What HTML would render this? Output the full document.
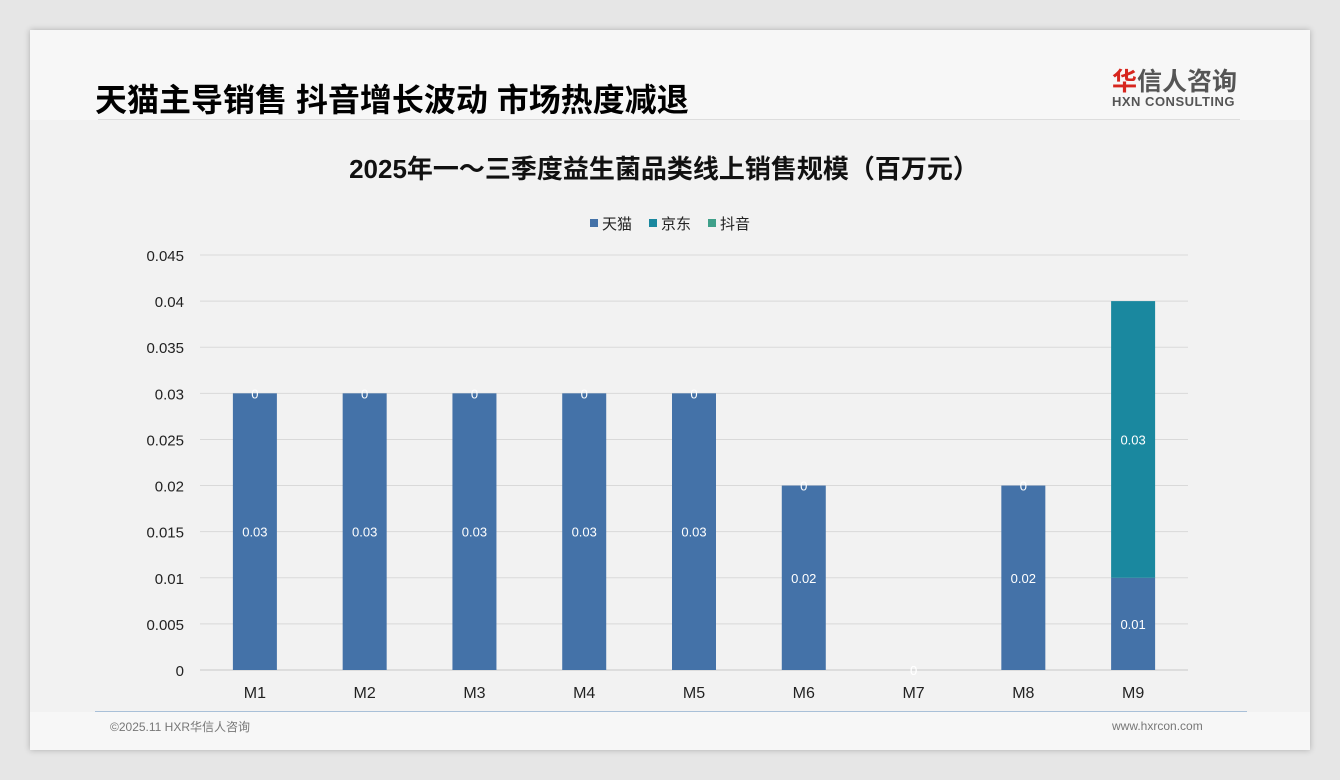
<!DOCTYPE html>
<html><head><meta charset="utf-8"><style>
body{margin:0;width:1340px;height:780px;background:#e6e6e6;position:relative;overflow:hidden;font-family:"Liberation Sans","Noto Sans CJK SC",sans-serif}
#card{position:absolute;left:30px;top:30px;width:1280px;height:720px;background:#f7f7f7;box-shadow:0 0 6px rgba(0,0,0,.25)}
#inner{position:absolute;left:30px;top:120px;width:1280px;height:592px;background:#f2f2f2}
.t{position:absolute;white-space:nowrap}
</style></head><body>
<div id="card"></div>
<div id="inner"></div>
<div class="t" style="left:95px;top:75px;font-size:32px;font-weight:bold;color:#000">天猫主导销售 抖音增长波动 市场热度减退</div>
<div style="position:absolute;left:98px;top:119px;width:1142px;height:1px;background:#ddd"></div>
<div class="t" style="left:1112px;top:62px;font-size:25px;font-weight:bold;color:#555"><span style="color:#d7261e">华</span>信人咨询</div>
<div class="t" style="left:1112px;top:94px;font-size:13px;font-weight:bold;color:#555;letter-spacing:.5px">HXN CONSULTING</div>
<div class="t" style="left:110px;top:718px;font-size:12px;color:#777">©2025.11 HXR华信人咨询</div>
<div class="t" style="left:1112px;top:719px;font-size:12px;color:#777">www.hxrcon.com</div>
<div style="position:absolute;left:95px;top:711px;width:1152px;height:1px;background:#a9c0d8"></div>
<svg id="chart" width="1340" height="780" style="position:absolute;left:0;top:0">
<text x="664" y="178" text-anchor="middle" font-size="26" font-weight="bold" fill="#111">2025年一～三季度益生菌品类线上销售规模（百万元）</text>
<g id="legend"></g>
<g id="grid"></g><g id="bars"></g><g id="labels"></g>
</svg>
<script>
const categories=["M1","M2","M3","M4","M5","M6","M7","M8","M9"];
const tmall=[0.03,0.03,0.03,0.03,0.03,0.02,0,0.02,0.01];
const jd=[0,0,0,0,0,0,0,0,0.03];
const douyin=[0,0,0,0,0,0,0,0,0];
const ticks=[0,0.005,0.01,0.015,0.02,0.025,0.03,0.035,0.04,0.045];
const tickLabels=["0","0.005","0.01","0.015","0.02","0.025","0.03","0.035","0.04","0.045"];
const seriesNames=["天猫","京东","抖音"];
const colors=["#4472a8","#1a889f","#3fa08a"];
const NS="http://www.w3.org/2000/svg";
const x0=200,x1=1188,y0=670,yTop=255,maxV=0.045;
const y=v=>y0-(v/maxV)*(y0-yTop);
const band=(x1-x0)/categories.length;
const xc=i=>x0+band*(i+0.5);
function mk(tag,attrs,parent,txt){const e=document.createElementNS(NS,tag);for(const k in attrs)e.setAttribute(k,attrs[k]);if(txt!==undefined)e.textContent=txt;parent.appendChild(e);return e;}
const grid=document.getElementById('grid'),bars=document.getElementById('bars'),labels=document.getElementById('labels'),legend=document.getElementById('legend');
ticks.forEach((t,i)=>{
 const l=mk('line',{x1:x0,x2:x1,y1:y(t),y2:y(t),stroke:i==0?'#c8c8c8':'#d9d9d9','stroke-width':1},grid);
 
 
 const tx=mk('text',{x:184,y:y(t)+6,'text-anchor':'end','font-size':15,fill:'#222'},grid,tickLabels[i]);
 
 
});
const series=[tmall,jd,douyin];
categories.forEach((c,i)=>{
 let acc=0;
 series.forEach((s,k)=>{
  const v=s[i];const yb=y(acc),yt=y(acc+v);
  if(v>0){
   const r=mk('rect',{x:xc(i)-22,y:yt,width:44,height:yb-yt,fill:colors[k]},bars);
   
   
  }
  acc+=v;
 });
 let a2=0;
 series.forEach((s,k)=>{
  const v=s[i];
  let ly;
  if(v>0) ly=(y(a2)+y(a2+v))/2+5;
  else if((k==2 && jd[i]==0) || (k==0 && acc==0)) ly=y(acc)+5;
  else {a2+=v;return;}
  const t=mk('text',{x:xc(i),y:ly,'text-anchor':'middle','font-size':13,fill:'#fff'},labels,String(v));
  
  
  a2+=v;
 });
 const xl=mk('text',{x:xc(i),y:698,'text-anchor':'middle','font-size':16,fill:'#222'},labels,c);
 
 
});
const lx=[590,649,708];
seriesNames.forEach((n,k)=>{
 const r=mk('rect',{x:lx[k],y:219,width:8,height:8,fill:colors[k]},legend);
 
 
 const t=mk('text',{x:lx[k]+12,y:229,'font-size':15,fill:'#222'},legend,n);
 
 
});
</script>
</body></html>
